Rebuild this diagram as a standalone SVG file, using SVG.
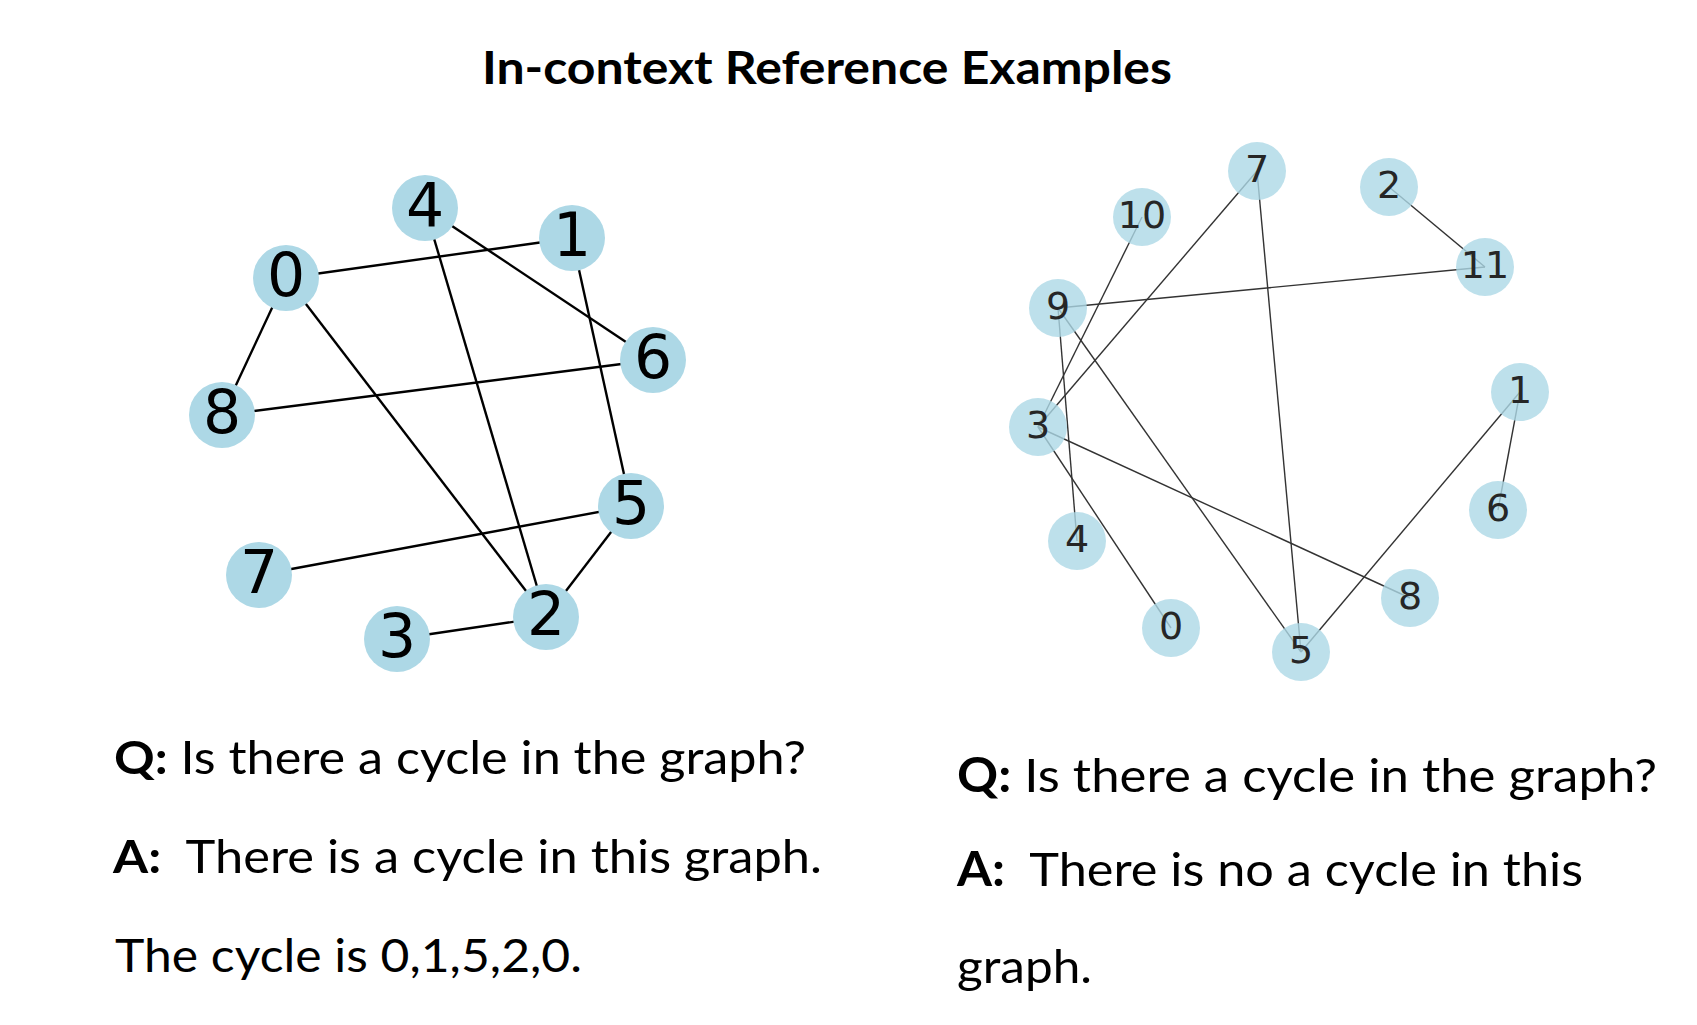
<svg xmlns="http://www.w3.org/2000/svg" width="1697" height="1025" viewBox="0 0 1697 1025">
<style>
.txt{font-family:Lato,"Open Sans","Liberation Sans",sans-serif;fill:#000;white-space:pre}
.b{font-weight:700}
.ln1{stroke:#000;stroke-width:2.4;fill:none}
.ln2{stroke:#333;stroke-width:1.4;fill:none}
.n1{fill:#add8e6}
.n2{fill:#add8e6;fill-opacity:0.8}
.l1{font-family:"DejaVu Sans",sans-serif;font-size:60px;fill:#000;text-anchor:middle}
.l2{font-family:"DejaVu Sans",sans-serif;font-size:38px;fill:#262626;text-anchor:middle}
</style>
<rect width="1697" height="1025" fill="#fff"/>
<text class="txt b" x="482" y="84" font-size="45" textLength="690" lengthAdjust="spacingAndGlyphs">In-context Reference Examples</text>

<g id="edges-left">
<line class="ln1" x1="286" y1="278" x2="572" y2="238"/>
<line class="ln1" x1="286" y1="278" x2="222" y2="415"/>
<line class="ln1" x1="286" y1="278" x2="546" y2="617"/>
<line class="ln1" x1="425" y1="208" x2="653" y2="360"/>
<line class="ln1" x1="425" y1="208" x2="546" y2="617"/>
<line class="ln1" x1="572" y1="238" x2="631" y2="506"/>
<line class="ln1" x1="222" y1="415" x2="653" y2="360"/>
<line class="ln1" x1="259" y1="575" x2="631" y2="506"/>
<line class="ln1" x1="631" y1="506" x2="546" y2="617"/>
<line class="ln1" x1="397" y1="639" x2="546" y2="617"/>
</g>
<g id="L0"><circle class="n1" cx="286" cy="278" r="33"/><text class="l1" x="286" y="296">0</text></g>
<g id="L1"><circle class="n1" cx="572" cy="238" r="33"/><text class="l1" x="572" y="256">1</text></g>
<g id="L2"><circle class="n1" cx="546" cy="617" r="33"/><text class="l1" x="546" y="635">2</text></g>
<g id="L3"><circle class="n1" cx="397" cy="639" r="33"/><text class="l1" x="397" y="657">3</text></g>
<g id="L4"><circle class="n1" cx="425" cy="208" r="33"/><text class="l1" x="425" y="226">4</text></g>
<g id="L5"><circle class="n1" cx="631" cy="506" r="33"/><text class="l1" x="631" y="524">5</text></g>
<g id="L6"><circle class="n1" cx="653" cy="360" r="33"/><text class="l1" x="653" y="378">6</text></g>
<g id="L7"><circle class="n1" cx="259" cy="575" r="33"/><text class="l1" x="259" y="593">7</text></g>
<g id="L8"><circle class="n1" cx="222" cy="415" r="33"/><text class="l1" x="222" y="433">8</text></g>

<g id="edges-right">
<line class="ln2" x1="1389" y1="187" x2="1485" y2="267"/>
<line class="ln2" x1="1058" y1="308" x2="1485" y2="267"/>
<line class="ln2" x1="1257" y1="171" x2="1038" y2="427"/>
<line class="ln2" x1="1257" y1="171" x2="1301" y2="652"/>
<line class="ln2" x1="1142" y1="217" x2="1038" y2="427"/>
<line class="ln2" x1="1058" y1="308" x2="1077" y2="541"/>
<line class="ln2" x1="1058" y1="308" x2="1301" y2="652"/>
<line class="ln2" x1="1038" y1="427" x2="1410" y2="598"/>
<line class="ln2" x1="1038" y1="427" x2="1171" y2="628"/>
<line class="ln2" x1="1520" y1="392" x2="1301" y2="652"/>
<line class="ln2" x1="1520" y1="392" x2="1498" y2="510"/>
</g>
<g id="R0"><circle class="n2" cx="1171" cy="628" r="29"/><text class="l2" x="1171" y="639">0</text></g>
<g id="R1"><circle class="n2" cx="1520" cy="392" r="29"/><text class="l2" x="1520" y="403">1</text></g>
<g id="R2"><circle class="n2" cx="1389" cy="187" r="29"/><text class="l2" x="1389" y="198">2</text></g>
<g id="R3"><circle class="n2" cx="1038" cy="427" r="29"/><text class="l2" x="1038" y="438">3</text></g>
<g id="R4"><circle class="n2" cx="1077" cy="541" r="29"/><text class="l2" x="1077" y="552">4</text></g>
<g id="R5"><circle class="n2" cx="1301" cy="652" r="29"/><text class="l2" x="1301" y="663">5</text></g>
<g id="R6"><circle class="n2" cx="1498" cy="510" r="29"/><text class="l2" x="1498" y="521">6</text></g>
<g id="R7"><circle class="n2" cx="1257" cy="171" r="29"/><text class="l2" x="1257" y="182">7</text></g>
<g id="R8"><circle class="n2" cx="1410" cy="598" r="29"/><text class="l2" x="1410" y="609">8</text></g>
<g id="R9"><circle class="n2" cx="1058" cy="308" r="29"/><text class="l2" x="1058" y="319">9</text></g>
<g id="R10"><circle class="n2" cx="1142" cy="217" r="29"/><text class="l2" x="1142" y="228">10</text></g>
<g id="R11"><circle class="n2" cx="1485" cy="267" r="29"/><text class="l2" x="1485" y="278">11</text></g>

<g id="text-left">
<text class="txt" x="114" y="774" font-size="46" textLength="692" lengthAdjust="spacingAndGlyphs"><tspan class="b">Q:</tspan> Is there a cycle in the graph?</text>
<text class="txt" x="113" y="873" font-size="46" textLength="709" lengthAdjust="spacingAndGlyphs"><tspan class="b">A:</tspan>  There is a cycle in this graph.</text>
<text class="txt" x="115" y="972" font-size="46" textLength="467" lengthAdjust="spacingAndGlyphs">The cycle is 0,1,5,2,0.</text>
</g>
<g id="text-right">
<text class="txt" x="957" y="792" font-size="47" textLength="700" lengthAdjust="spacingAndGlyphs"><tspan class="b">Q:</tspan> Is there a cycle in the graph?</text>
<text class="txt" x="957" y="886" font-size="47" textLength="626" lengthAdjust="spacingAndGlyphs"><tspan class="b">A:</tspan>  There is no a cycle in this</text>
<text class="txt" x="957" y="983" font-size="47" textLength="135" lengthAdjust="spacingAndGlyphs">graph.</text>
</g>
</svg>
